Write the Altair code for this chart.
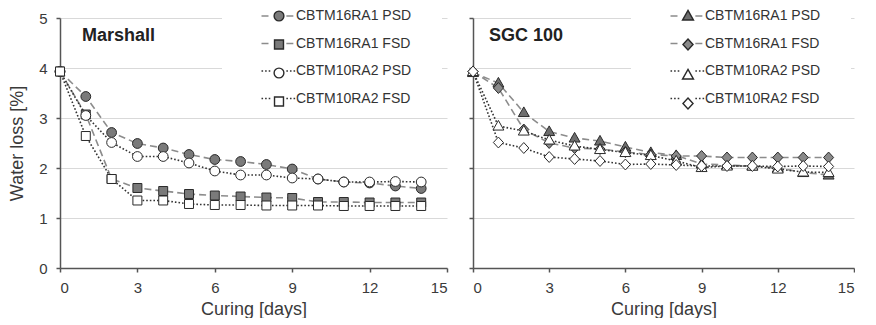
import altair as alt
import pandas as pd

FONT = "Liberation Sans"

days = list(range(15))
series_names = ["CBTM16RA1 PSD", "CBTM16RA1 FSD", "CBTM10RA2 PSD", "CBTM10RA2 FSD"]

# Marshall panel
m_16_psd = [3.93, 3.43, 2.71, 2.49, 2.40, 2.27, 2.17, 2.13, 2.07, 1.98, 1.78, 1.72, 1.70, 1.64, 1.59]
m_16_fsd = [3.93, 3.07, 1.78, 1.60, 1.54, 1.48, 1.45, 1.43, 1.41, 1.40, 1.32, 1.32, 1.31, 1.31, 1.31]
m_10_psd = [3.93, 3.05, 2.51, 2.23, 2.23, 2.10, 1.94, 1.86, 1.86, 1.80, 1.78, 1.72, 1.72, 1.73, 1.72]
m_10_fsd = [3.93, 2.64, 1.78, 1.35, 1.35, 1.28, 1.26, 1.26, 1.25, 1.25, 1.25, 1.24, 1.24, 1.24, 1.24]

# SGC 100 panel
s_16_psd = [3.91, 3.70, 3.11, 2.73, 2.60, 2.54, 2.42, 2.31, 2.25, 2.08, 2.06, 2.04, 2.00, 1.91, 1.86]
s_16_fsd = [3.93, 3.60, 2.77, 2.50, 2.40, 2.38, 2.32, 2.27, 2.24, 2.24, 2.21, 2.21, 2.21, 2.21, 2.21]
s_10_psd = [3.93, 2.84, 2.74, 2.56, 2.44, 2.37, 2.31, 2.25, 2.14, 2.01, 2.04, 2.04, 1.98, 1.92, 1.91]
s_10_fsd = [3.93, 2.51, 2.40, 2.22, 2.18, 2.14, 2.07, 2.08, 2.06, 2.04, 2.04, 2.04, 2.03, 2.04, 2.03]

x_ticks = [0, 3, 6, 9, 12, 15]
y_ticks = [0, 1, 2, 3, 4, 5]

# marker paths (unit = 7 px at symbol size 196)
CIRCLE = "M0.7,0A0.7,0.7 0 1,1 -0.7,0A0.7,0.7 0 1,1 0.7,0Z"
SQUARE = "M-0.64,-0.64H0.64V0.64H-0.64Z"
TRI = "M0,-0.8L0.78,0.58H-0.78Z"
DIAM = "M0,-0.78L0.72,0L0,0.78L-0.72,0Z"
TAIL = "M-2.5,0H-1.05M1.05,0H2.5"

line_colors = ["#8c8c8c", "#8c8c8c", "#333333", "#333333"]
line_dashes = [[7, 4], [7, 4], [1.6, 2], [1.6, 2]]
SYM = 196


def long_df(vals):
    rows = []
    for name, v in zip(series_names, vals):
        for d, val in zip(days, v):
            rows.append({"day": d, "loss": val, "series": name, "mk": "m " + name})
    return pd.DataFrame(rows)


def panel(vals, title, shapes, fills, width, lx, tx, show_y):
    df = long_df(vals)
    mk_domain = ["m " + n for n in series_names]
    x = alt.X("day:Q", scale=alt.Scale(domain=[0, 15], nice=False),
              axis=alt.Axis(values=x_ticks, title="Curing [days]", grid=False))
    yaxis = dict(values=y_ticks, grid=True)
    if show_y:
        yaxis["title"] = "Water loss [%]"
    else:
        yaxis["title"] = ""
        yaxis["labels"] = False
    y = alt.Y("loss:Q", scale=alt.Scale(domain=[0, 5], nice=False), axis=alt.Axis(**yaxis))

    common = dict(orient="none", legendX=lx, legendY=-11, title=None, padding=1,
                  symbolOffset=48, labelOffset=9, rowPadding=12.5, symbolSize=SYM,
                  symbolStrokeWidth=1.4,
                  labelFont=FONT, labelFontSize=14, labelColor="#333333")
    leg1 = alt.Legend(symbolType=TAIL, zindex=2, **common)
    leg2 = alt.Legend(fillColor="white", labelOpacity=0,
                      labelExpr="datum.label + ' N'", zindex=1, **common)

    base = alt.Chart(df)
    lines = base.mark_line(strokeWidth=1.6).encode(
        x=x, y=y,
        color=alt.Color("series:N", scale=alt.Scale(domain=series_names, range=line_colors), legend=leg1),
        strokeDash=alt.StrokeDash("series:N", scale=alt.Scale(domain=series_names, range=line_dashes), legend=leg1),
    )
    points = base.mark_point(filled=True, size=SYM, stroke="#2a2a2a", strokeWidth=1, opacity=1).encode(
        x=x, y=y,
        shape=alt.Shape("mk:N", scale=alt.Scale(domain=mk_domain, range=shapes), legend=leg2),
        fill=alt.Fill("mk:N", scale=alt.Scale(domain=mk_domain, range=fills), legend=leg2),
    )
    label = alt.Chart(pd.DataFrame({"t": [title]})).mark_text(
        font=FONT, fontSize=18, fontWeight="bold", align="left", baseline="middle", color="#222222"
    ).encode(text="t:N", x=alt.value(tx), y=alt.value(18))
    return alt.layer(lines, points, label).properties(width=width, height=250)


left = panel([m_16_psd, m_16_fsd, m_10_psd, m_10_fsd], "Marshall",
             [CIRCLE, SQUARE, CIRCLE, SQUARE], ["#7a7a7a", "#7a7a7a", "#ffffff", "#ffffff"],
             387, 162, 22, True)
right = panel([s_16_psd, s_16_fsd, s_10_psd, s_10_fsd], "SGC 100",
              [TRI, DIAM, TRI, DIAM], ["#6e6e6e", "#8a8a8a", "#ffffff", "#ffffff"],
              381, 158, 16, False)

chart = alt.hconcat(left, right, spacing=17).resolve_scale(
    color="independent", strokeDash="independent", shape="independent", fill="independent"
).properties(
    padding={"left": 0, "top": -1, "right": 0, "bottom": 0}
).configure_view(stroke=None).configure_axis(
    domainColor="#555555", domainWidth=1.5, tickColor="#555555", tickWidth=1.5, tickSize=4,
    labelFont=FONT, labelFontSize=15, labelColor="#3a3a3a", labelPadding=8,
    titleFont=FONT, titleFontSize=18, titleFontWeight="normal", titleColor="#3a3a3a",
    gridColor="#d9d9d9", gridWidth=1, titlePadding=5
).configure_axisY(labelPadding=9, titlePadding=12)

chart.save("out.html", embed_options={"renderer": "svg", "actions": False})
